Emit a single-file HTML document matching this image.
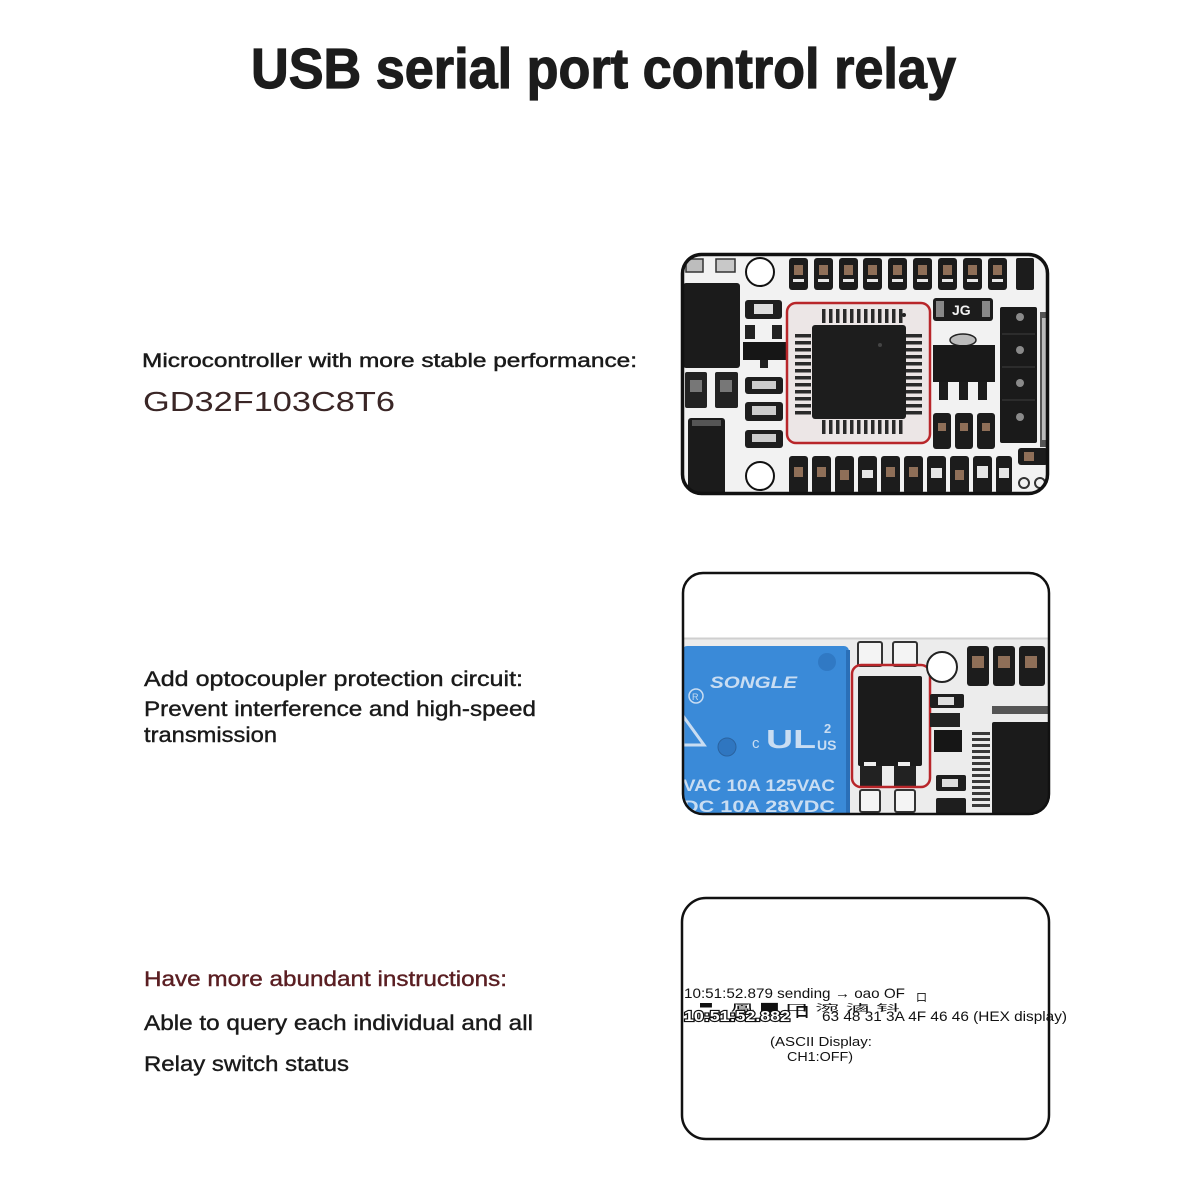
<!DOCTYPE html>
<html><head><meta charset="utf-8"><style>
html,body{margin:0;padding:0;background:#fff;}
svg{display:block;}
text{font-family:"Liberation Sans","Noto Sans CJK SC",sans-serif;}
</style></head><body>
<svg width="1200" height="1200" viewBox="0 0 1200 1200" xmlns="http://www.w3.org/2000/svg">
<defs>
<clipPath id="c1"><rect x="681" y="253" width="368" height="242" rx="20"/></clipPath>
<clipPath id="c2"><rect x="682" y="572" width="368" height="243" rx="20"/></clipPath>
</defs>
<rect width="1200" height="1200" fill="#fff"/>

<!-- Title -->
<text x="251" y="88" font-size="57" font-weight="bold" textLength="705" lengthAdjust="spacingAndGlyphs" fill="#1c1c1c" stroke="#1c1c1c" stroke-width="1.2">USB serial port control relay</text>

<!-- Section 1 text -->
<text x="142" y="367" font-size="19" textLength="495" lengthAdjust="spacingAndGlyphs" fill="#1a1a1a" stroke="#1a1a1a" stroke-width="0.45">Microcontroller with more stable performance:</text>
<text x="143" y="411" font-size="28" textLength="252" lengthAdjust="spacingAndGlyphs" fill="#3a2626">GD32F103C8T6</text>

<!-- Section 2 text -->
<text x="144" y="686" font-size="21" textLength="379" lengthAdjust="spacingAndGlyphs" fill="#1a1a1a" stroke="#1a1a1a" stroke-width="0.4">Add optocoupler protection circuit:</text>
<text x="144" y="716" font-size="21" textLength="392" lengthAdjust="spacingAndGlyphs" fill="#1a1a1a" stroke="#1a1a1a" stroke-width="0.4">Prevent interference and high-speed</text>
<text x="144" y="742" font-size="21" textLength="133" lengthAdjust="spacingAndGlyphs" fill="#1a1a1a" stroke="#1a1a1a" stroke-width="0.4">transmission</text>

<!-- Section 3 text -->
<text x="144" y="986" font-size="21" textLength="363" lengthAdjust="spacingAndGlyphs" fill="#5a1e22" stroke="#5a1e22" stroke-width="0.4">Have more abundant instructions:</text>
<text x="144" y="1030" font-size="21" textLength="389" lengthAdjust="spacingAndGlyphs" fill="#1a1a1a" stroke="#1a1a1a" stroke-width="0.4">Able to query each individual and all</text>
<text x="144" y="1071" font-size="21" textLength="205" lengthAdjust="spacingAndGlyphs" fill="#1a1a1a" stroke="#1a1a1a" stroke-width="0.4">Relay switch status</text>

<!-- ================= BOARD 1 ================= -->
<g>
<rect x="681" y="253" width="368" height="242" rx="20" fill="#f2f2f2"/>
<g clip-path="url(#c1)">
  <rect x="686" y="259" width="17" height="13" fill="#bdbdbd" stroke="#333" stroke-width="1.5"/>
  <rect x="716" y="259" width="19" height="13" fill="#c8c8c8" stroke="#333" stroke-width="1.5"/>
  <rect x="683" y="283" width="57" height="85" rx="3" fill="#1b1b1b"/>
  <rect x="685" y="372" width="22" height="36" rx="2" fill="#222"/>
  <rect x="690" y="380" width="12" height="12" fill="#777"/>
  <rect x="715" y="372" width="23" height="36" rx="2" fill="#222"/>
  <rect x="720" y="380" width="12" height="12" fill="#777"/>
  <rect x="688" y="418" width="37" height="77" rx="3" fill="#1b1b1b"/>
  <rect x="692" y="420" width="29" height="6" fill="#555"/>
  <circle cx="760" cy="272" r="14" fill="#fff" stroke="#111" stroke-width="2"/>
  <circle cx="760" cy="476" r="14" fill="#fff" stroke="#111" stroke-width="2"/>
  <rect x="745" y="300" width="37" height="19" rx="3" fill="#1e1e1e"/>
  <rect x="754" y="304" width="19" height="10" fill="#ddd"/>
  <rect x="745" y="325" width="10" height="14" fill="#222"/>
  <rect x="772" y="325" width="10" height="14" fill="#222"/>
  <rect x="743" y="342" width="43" height="18" fill="#161616"/>
  <rect x="760" y="360" width="8" height="8" fill="#222"/>
  <rect x="745" y="377" width="38" height="17" rx="3" fill="#1e1e1e"/>
  <rect x="752" y="381" width="24" height="8" fill="#ccc"/>
  <rect x="745" y="402" width="38" height="19" rx="3" fill="#1e1e1e"/>
  <rect x="752" y="406" width="24" height="9" fill="#ccc"/>
  <rect x="745" y="430" width="38" height="18" rx="3" fill="#1e1e1e"/>
  <rect x="752" y="434" width="24" height="8" fill="#ccc"/>

  <g fill="#1c1c1c">
    <rect x="789" y="258" width="19" height="32" rx="3"/>
    <rect x="814" y="258" width="19" height="32" rx="3"/>
    <rect x="839" y="258" width="19" height="32" rx="3"/>
    <rect x="863" y="258" width="19" height="32" rx="3"/>
    <rect x="888" y="258" width="19" height="32" rx="3"/>
    <rect x="913" y="258" width="19" height="32" rx="3"/>
    <rect x="938" y="258" width="19" height="32" rx="3"/>
    <rect x="963" y="258" width="19" height="32" rx="3"/>
    <rect x="988" y="258" width="19" height="32" rx="3"/>
    <rect x="1016" y="258" width="18" height="32" rx="2"/>
  </g>
  <g fill="#8f6f58">
    <rect x="794" y="265" width="9" height="10"/>
    <rect x="819" y="265" width="9" height="10"/>
    <rect x="844" y="265" width="9" height="10"/>
    <rect x="868" y="265" width="9" height="10"/>
    <rect x="893" y="265" width="9" height="10"/>
    <rect x="918" y="265" width="9" height="10"/>
    <rect x="943" y="265" width="9" height="10"/>
    <rect x="968" y="265" width="9" height="10"/>
    <rect x="993" y="265" width="9" height="10"/>
  </g>
  <g fill="#e8e8e8">
    <rect x="793" y="279" width="11" height="3"/>
    <rect x="818" y="279" width="11" height="3"/>
    <rect x="843" y="279" width="11" height="3"/>
    <rect x="867" y="279" width="11" height="3"/>
    <rect x="892" y="279" width="11" height="3"/>
    <rect x="917" y="279" width="11" height="3"/>
    <rect x="942" y="279" width="11" height="3"/>
    <rect x="967" y="279" width="11" height="3"/>
    <rect x="992" y="279" width="11" height="3"/>
  </g>

  <g fill="#1c1c1c">
    <rect x="789" y="456" width="19" height="38" rx="3"/>
    <rect x="812" y="456" width="19" height="38" rx="3"/>
    <rect x="835" y="456" width="19" height="38" rx="3"/>
    <rect x="858" y="456" width="19" height="38" rx="3"/>
    <rect x="881" y="456" width="19" height="38" rx="3"/>
    <rect x="904" y="456" width="19" height="38" rx="3"/>
    <rect x="927" y="456" width="19" height="38" rx="3"/>
    <rect x="950" y="456" width="19" height="38" rx="3"/>
    <rect x="973" y="456" width="19" height="38" rx="3"/>
    <rect x="996" y="456" width="16" height="38" rx="3"/>
  </g>
  <g fill="#8f6f58">
    <rect x="794" y="467" width="9" height="10"/>
    <rect x="817" y="467" width="9" height="10"/>
    <rect x="840" y="470" width="9" height="10"/>
    <rect x="886" y="467" width="9" height="10"/>
    <rect x="909" y="467" width="9" height="10"/>
    <rect x="955" y="470" width="9" height="10"/>
  </g>
  <g fill="#e6e6e6">
    <rect x="862" y="470" width="11" height="8"/>
    <rect x="931" y="468" width="11" height="10"/>
    <rect x="977" y="466" width="11" height="12"/>
    <rect x="999" y="468" width="10" height="10"/>
  </g>

  <rect x="787" y="303" width="143" height="140" rx="9" fill="#ece6e6" stroke="#b8262a" stroke-width="2.5"/>
  <g fill="#2a2a2a">
    <rect x="822" y="309" width="3.5" height="14"/><rect x="829" y="309" width="3.5" height="14"/><rect x="836" y="309" width="3.5" height="14"/><rect x="843" y="309" width="3.5" height="14"/><rect x="850" y="309" width="3.5" height="14"/><rect x="857" y="309" width="3.5" height="14"/><rect x="864" y="309" width="3.5" height="14"/><rect x="871" y="309" width="3.5" height="14"/><rect x="878" y="309" width="3.5" height="14"/><rect x="885" y="309" width="3.5" height="14"/><rect x="892" y="309" width="3.5" height="14"/><rect x="899" y="309" width="3.5" height="14"/>
    <rect x="822" y="420" width="3.5" height="14"/><rect x="829" y="420" width="3.5" height="14"/><rect x="836" y="420" width="3.5" height="14"/><rect x="843" y="420" width="3.5" height="14"/><rect x="850" y="420" width="3.5" height="14"/><rect x="857" y="420" width="3.5" height="14"/><rect x="864" y="420" width="3.5" height="14"/><rect x="871" y="420" width="3.5" height="14"/><rect x="878" y="420" width="3.5" height="14"/><rect x="885" y="420" width="3.5" height="14"/><rect x="892" y="420" width="3.5" height="14"/><rect x="899" y="420" width="3.5" height="14"/>
    <rect x="795" y="334" width="16" height="3.5"/><rect x="795" y="341" width="16" height="3.5"/><rect x="795" y="348" width="16" height="3.5"/><rect x="795" y="355" width="16" height="3.5"/><rect x="795" y="362" width="16" height="3.5"/><rect x="795" y="369" width="16" height="3.5"/><rect x="795" y="376" width="16" height="3.5"/><rect x="795" y="383" width="16" height="3.5"/><rect x="795" y="390" width="16" height="3.5"/><rect x="795" y="397" width="16" height="3.5"/><rect x="795" y="404" width="16" height="3.5"/><rect x="795" y="411" width="16" height="3.5"/>
    <rect x="906" y="334" width="16" height="3.5"/><rect x="906" y="341" width="16" height="3.5"/><rect x="906" y="348" width="16" height="3.5"/><rect x="906" y="355" width="16" height="3.5"/><rect x="906" y="362" width="16" height="3.5"/><rect x="906" y="369" width="16" height="3.5"/><rect x="906" y="376" width="16" height="3.5"/><rect x="906" y="383" width="16" height="3.5"/><rect x="906" y="390" width="16" height="3.5"/><rect x="906" y="397" width="16" height="3.5"/><rect x="906" y="404" width="16" height="3.5"/><rect x="906" y="411" width="16" height="3.5"/>
  </g>
  <rect x="812" y="325" width="94" height="94" rx="3" fill="#1d1d1d"/>
  <circle cx="880" cy="345" r="2" fill="#444"/>
  <circle cx="904" cy="315" r="2" fill="#222"/>

  <rect x="933" y="298" width="60" height="23" rx="3" fill="#1c1c1c"/>
  <text x="952" y="315" font-size="14" font-weight="bold" fill="#f2f2f2">JG</text>
  <rect x="936" y="301" width="8" height="16" fill="#888"/>
  <rect x="982" y="301" width="8" height="16" fill="#888"/>
  <ellipse cx="963" cy="340" rx="13" ry="6" fill="#bbb" stroke="#222" stroke-width="1.5"/>
  <rect x="933" y="345" width="62" height="37" fill="#191919"/>
  <rect x="939" y="382" width="9" height="18" fill="#1c1c1c"/>
  <rect x="959" y="382" width="9" height="18" fill="#1c1c1c"/>
  <rect x="978" y="382" width="9" height="18" fill="#1c1c1c"/>
  <rect x="933" y="413" width="18" height="36" rx="3" fill="#1c1c1c"/>
  <rect x="955" y="413" width="18" height="36" rx="3" fill="#1c1c1c"/>
  <rect x="977" y="413" width="18" height="36" rx="3" fill="#1c1c1c"/>
  <rect x="938" y="423" width="8" height="8" fill="#8f6f58"/>
  <rect x="960" y="423" width="8" height="8" fill="#8f6f58"/>
  <rect x="982" y="423" width="8" height="8" fill="#8f6f58"/>
  <rect x="1000" y="307" width="37" height="136" rx="2" fill="#1a1a1a"/>
  <circle cx="1020" cy="317" r="4" fill="#8a8a8a"/>
  <circle cx="1020" cy="350" r="4" fill="#8a8a8a"/>
  <circle cx="1020" cy="383" r="4" fill="#8a8a8a"/>
  <circle cx="1020" cy="417" r="4" fill="#8a8a8a"/>
  <line x1="1002" y1="334" x2="1035" y2="334" stroke="#333" stroke-width="1.5"/>
  <line x1="1002" y1="367" x2="1035" y2="367" stroke="#333" stroke-width="1.5"/>
  <line x1="1002" y1="400" x2="1035" y2="400" stroke="#333" stroke-width="1.5"/>
  <rect x="1040" y="312" width="8" height="135" fill="#555"/>
  <rect x="1042" y="318" width="4" height="122" fill="#bbb"/>
  <rect x="1018" y="448" width="30" height="17" rx="3" fill="#1c1c1c"/>
  <rect x="1024" y="452" width="10" height="9" fill="#8f6f58"/>
  <circle cx="1024" cy="483" r="5" fill="none" stroke="#333" stroke-width="2"/>
  <circle cx="1040" cy="483" r="5" fill="none" stroke="#333" stroke-width="2"/>
</g>
<rect x="682.5" y="254.5" width="365" height="239" rx="19" fill="none" stroke="#111" stroke-width="3.5"/>
</g>

<!-- ================= BOARD 2 ================= -->
<g>
<rect x="682" y="572" width="368" height="243" rx="20" fill="#fff"/>
<g clip-path="url(#c2)">
  <rect x="682" y="638" width="368" height="180" fill="#ececec"/>
  <line x1="682" y1="638.5" x2="1050" y2="638.5" stroke="#cfcfcf" stroke-width="2"/>
  <rect x="682" y="646" width="167" height="172" rx="5" fill="#3a8ad8"/>
  <rect x="846" y="650" width="4" height="166" fill="#2a6fb8"/>
  <circle cx="827" cy="662" r="9" fill="#3079c4"/>
  <circle cx="727" cy="747" r="9" fill="#2f76c0" stroke="#2a63a0" stroke-width="1"/>
  <text x="710" y="688" font-family="Liberation Serif, serif" font-size="17" font-style="italic" font-weight="bold" fill="#c9ddf2" textLength="87" lengthAdjust="spacingAndGlyphs">SONGLE</text>
  <circle cx="696" cy="696" r="7" fill="none" stroke="#c9ddf2" stroke-width="1.5"/>
  <text x="692" y="700" font-size="9" fill="#c9ddf2">R</text>
  <path d="M683 745 L704 745 L683 716 Z" fill="none" stroke="#c9ddf2" stroke-width="3"/>
  <text x="752" y="748" font-size="15" fill="#c9ddf2">c</text>
  <text x="766" y="748" font-size="26" font-weight="bold" fill="#c9ddf2" textLength="50" lengthAdjust="spacingAndGlyphs">UL</text>
  <text x="824" y="733" font-size="13" font-weight="bold" fill="#c9ddf2">2</text>
  <text x="817" y="750" font-size="14" font-weight="bold" fill="#c9ddf2">US</text>
  <text x="683" y="791" font-size="17" font-weight="bold" fill="#c9ddf2" textLength="152" lengthAdjust="spacingAndGlyphs">VAC  10A 125VAC</text>
  <text x="683" y="812" font-size="17" font-weight="bold" fill="#c9ddf2" textLength="152" lengthAdjust="spacingAndGlyphs">DC   10A  28VDC</text>
  <rect x="858" y="642" width="24" height="24" rx="2" fill="#f4f4f4" stroke="#333" stroke-width="2"/>
  <rect x="893" y="642" width="24" height="24" rx="2" fill="#f4f4f4" stroke="#333" stroke-width="2"/>
  <rect x="858" y="676" width="64" height="90" rx="2" fill="#1b1b1b"/>
  <rect x="860" y="766" width="22" height="20" fill="#222"/>
  <rect x="894" y="766" width="22" height="20" fill="#222"/>
  <rect x="864" y="762" width="12" height="4" fill="#eee"/>
  <rect x="898" y="762" width="12" height="4" fill="#eee"/>
  <rect x="860" y="790" width="20" height="22" rx="2" fill="#f4f4f4" stroke="#333" stroke-width="2"/>
  <rect x="895" y="790" width="20" height="22" rx="2" fill="#f4f4f4" stroke="#333" stroke-width="2"/>
  <rect x="852" y="665" width="78" height="122" rx="9" fill="none" stroke="#b8262a" stroke-width="2.5"/>
  <circle cx="942" cy="667" r="15" fill="#fff" stroke="#222" stroke-width="2"/>
  <rect x="967" y="646" width="22" height="40" rx="3" fill="#1c1c1c"/>
  <rect x="993" y="646" width="22" height="40" rx="3" fill="#1c1c1c"/>
  <rect x="1019" y="646" width="26" height="40" rx="3" fill="#1c1c1c"/>
  <rect x="972" y="656" width="12" height="12" fill="#8f6f58"/>
  <rect x="998" y="656" width="12" height="12" fill="#8f6f58"/>
  <rect x="1025" y="656" width="12" height="12" fill="#8f6f58"/>
  <rect x="930" y="694" width="34" height="14" rx="2" fill="#1e1e1e"/>
  <rect x="938" y="697" width="16" height="8" fill="#ddd"/>
  <rect x="930" y="713" width="30" height="14" fill="#222"/>
  <rect x="934" y="730" width="28" height="22" fill="#161616"/>
  <rect x="936" y="775" width="30" height="16" rx="2" fill="#1e1e1e"/>
  <rect x="942" y="779" width="16" height="8" fill="#ddd"/>
  <rect x="936" y="798" width="30" height="16" rx="2" fill="#1e1e1e"/>
  <rect x="992" y="706" width="56" height="8" fill="#555"/>
  <g fill="#3a3a3a">
    <rect x="972" y="732" width="18" height="3"/><rect x="972" y="738" width="18" height="3"/><rect x="972" y="744" width="18" height="3"/><rect x="972" y="750" width="18" height="3"/><rect x="972" y="756" width="18" height="3"/><rect x="972" y="762" width="18" height="3"/><rect x="972" y="768" width="18" height="3"/><rect x="972" y="774" width="18" height="3"/><rect x="972" y="780" width="18" height="3"/><rect x="972" y="786" width="18" height="3"/><rect x="972" y="792" width="18" height="3"/><rect x="972" y="798" width="18" height="3"/><rect x="972" y="804" width="18" height="3"/>
  </g>
  <rect x="992" y="722" width="58" height="92" rx="2" fill="#1b1b1b"/>
</g>
<rect x="683" y="573" width="366" height="241" rx="20" fill="none" stroke="#111" stroke-width="2.5"/>
</g>

<!-- ================= BOX 3 ================= -->
<rect x="682" y="898" width="367" height="241" rx="24" fill="#fff" stroke="#111" stroke-width="2.5"/>
<text x="684" y="998" font-size="14" fill="#111" textLength="221" lengthAdjust="spacingAndGlyphs">10:51:52.879 sending → oao OF</text>
<text x="916" y="1001" font-size="11" fill="#111">口</text>
<text x="700" y="1011" font-size="9" fill="#111" textLength="200" lengthAdjust="spacingAndGlyphs">  ▘  鳳 █  口  涴 滷  钭</text>
<text x="684" y="1021" font-size="15" font-weight="bold" fill="#fff" stroke="#111" stroke-width="2.2" paint-order="stroke" textLength="106" lengthAdjust="spacingAndGlyphs">10:51:52.882</text>
<text x="795" y="1017" font-size="14" font-weight="bold" fill="#111">口</text>
<text x="822" y="1021" font-size="14" fill="#111" textLength="245" lengthAdjust="spacingAndGlyphs">63 48 31 3A 4F 46 46 (HEX display)</text>
<text x="770" y="1046" font-size="13" fill="#111" textLength="102" lengthAdjust="spacingAndGlyphs">(ASCII Display:</text>
<text x="787" y="1061" font-size="13" fill="#111" textLength="66" lengthAdjust="spacingAndGlyphs">CH1:OFF)</text>
</svg>
</body></html>
